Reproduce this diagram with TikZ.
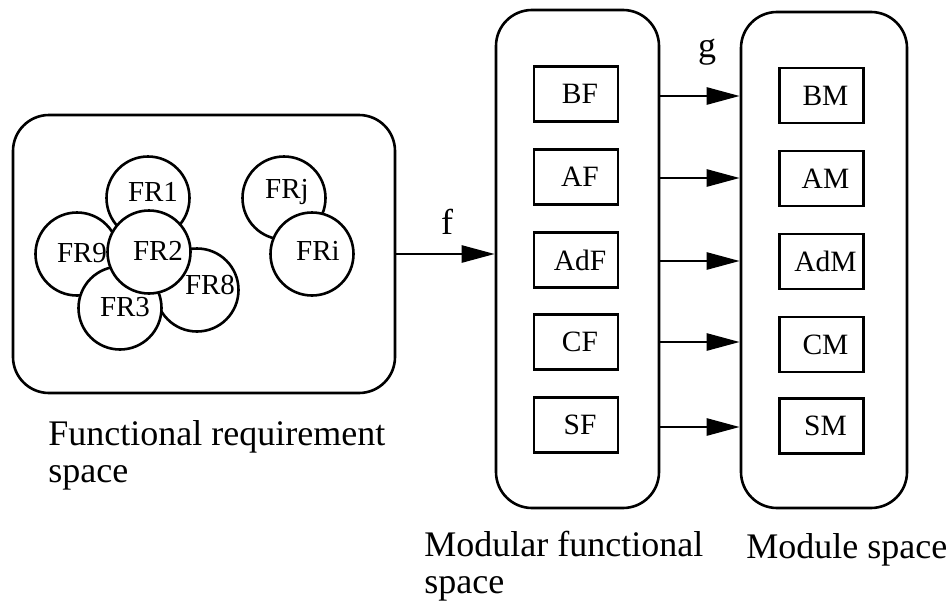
\documentclass[tikz,border=0pt]{standalone}
\usepackage{fontspec}
\setmainfont{Liberation Serif}
\usetikzlibrary{arrows.meta}
\begin{document}
\begin{tikzpicture}[x=1pt,y=-1pt,
  line width=2.6pt,
  spacebox/.style={draw, rounded corners=36pt, inner sep=0pt},
  fr/.style={draw, fill=white, circle, minimum size=83pt, inner sep=0pt},
  frtext/.style={font=\fontsize{29}{29}\selectfont, inner sep=0pt},
  part/.style={draw, minimum width=84pt, minimum height=55pt, inner sep=0pt},
  parttext/.style={font=\fontsize{29.5}{29.5}\selectfont, inner sep=0pt, xshift=4pt},
  caption/.style={font=\fontsize{36}{36.5}\selectfont, align=left, anchor=base west, inner sep=0pt},
  maplabel/.style={font=\fontsize{36}{36}\selectfont, inner sep=0pt},
  arr/.style={-{Triangle[length=33pt,width=17pt]}},
]
\useasboundingbox (0,0) rectangle (952,605);

% functional requirement space
\node[spacebox, minimum width=382pt, minimum height=278pt] (frs) at (204,254) {};
\node[fr, label={[frtext, shift={(5,-6)}]center:FR1}] (fr1) at (148,198) {};
\node[fr, label={[frtext, shift={(5,-1)}]center:FR9}] (fr9) at (77,254) {};
\node[fr, label={[frtext, shift={(13,-5)}]center:FR8}] (fr8) at (197,290) {};
\node[fr, label={[frtext, shift={(5,-1)}]center:FR3}] (fr3) at (120,308) {};
\node[fr, label={[frtext, shift={(9,-1)}]center:FR2}] (fr2) at (149,252) {};
\node[fr, label={[frtext, shift={(3,-6)}]center:FRj}] (frj) at (284,198) {};
\node[fr, label={[frtext, shift={(6,-3)}]center:FRi}] (fri) at (312,254) {};

% modular functional space
\node[spacebox, minimum width=163pt, minimum height=498pt] (mfs) at (577.5,259) {};
\node[part, label={[parttext]center:BF}] (bf) at (576,94) {};
\node[part, label={[parttext]center:AF}] (af) at (576,177) {};
\node[part, label={[parttext]center:AdF}] (adf) at (576,260) {};
\node[part, label={[parttext]center:CF}] (cf) at (576,342) {};
\node[part, label={[parttext]center:SF}] (sf) at (576,425) {};

% module space
\node[spacebox, minimum width=166pt, minimum height=496pt] (ms) at (824,260) {};
\node[part, label={[parttext]center:BM}] (bm) at (821.5,95.5) {};
\node[part, label={[parttext]center:AM}] (am) at (821.5,178.5) {};
\node[part, label={[parttext]center:AdM}] (adm) at (821.5,261.5) {};
\node[part, label={[parttext]center:CM}] (cm) at (821.5,344.5) {};
\node[part, label={[parttext]center:SM}] (sm) at (821.5,426) {};

% mappings f and g
\draw[arr] (frs.east) -- (frs.east -| mfs.west);
\node[maplabel] (flab) at (447,222) {f};
\draw[arr] ([yshift=-2pt]bf.east -| mfs.east) -- ([yshift=-2pt]bf.east -| ms.west);
\draw[arr] ([yshift=-1pt]af.east -| mfs.east) -- ([yshift=-1pt]af.east -| ms.west);
\draw[arr] ([yshift=-1pt]adf.east -| mfs.east) -- ([yshift=-1pt]adf.east -| ms.west);
\draw[arr] (cf.east -| mfs.east) -- (cf.east -| ms.west);
\draw[arr] ([yshift=-2pt]sf.east -| mfs.east) -- ([yshift=-2pt]sf.east -| ms.west);
\node[maplabel] (glab) at (707,52) {g};

% captions (anchored at the baseline of their last line)
\node[caption] (cap1) at (47,482) {Functional requirement\\space};
\node[caption] (cap2) at (423,593) {Modular functional\\space};
\node[caption] (cap3) at (745,558) {Module space};
\end{tikzpicture}
\end{document}
